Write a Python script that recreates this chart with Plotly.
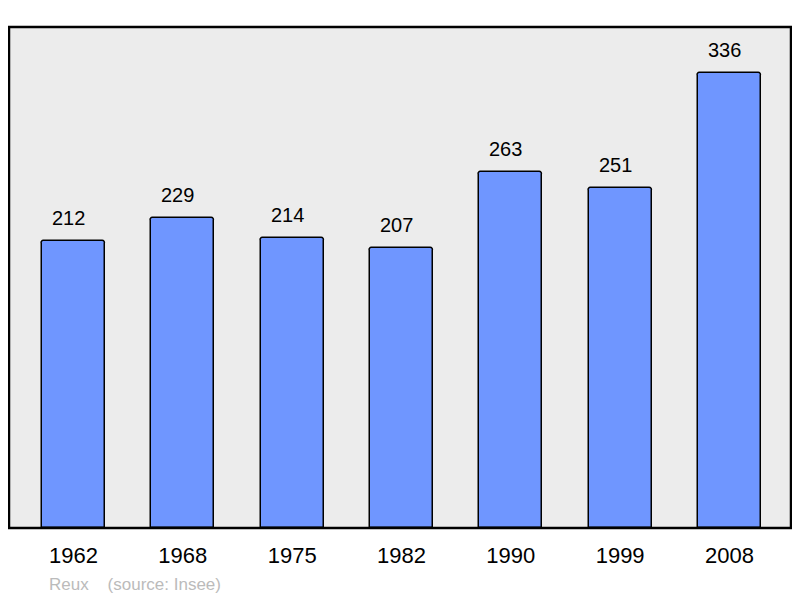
import plotly.graph_objects as go

years = ["1962", "1968", "1975", "1982", "1990", "1999", "2008"]
population = [212, 229, 214, 207, 263, 251, 336]
commune = "Reux"
source = "(source: Insee)"

FONT = "Liberation Sans, Arial, sans-serif"
idx = list(range(len(years)))

fig = go.Figure()
fig.add_trace(go.Bar(
    x=idx, y=population, width=0.576,
    marker=dict(color="#6f96ff", line=dict(color="#000000", width=1.5), cornerradius=3),
    hoverinfo="skip",
))
for i, v in zip(idx, population):
    fig.add_annotation(x=i, y=v, text=str(v), showarrow=False, yanchor="middle",
                       yshift=23, xshift=-5, font=dict(family=FONT, size=20, color="#000"))

fig.add_shape(type="rect", xref="paper", yref="paper", x0=0, y0=0, x1=1, y1=1,
              line=dict(color="#000", width=2.5), layer="above")
fig.add_annotation(xref="paper", yref="paper", x=(47 - 9) / 782, y=-(584 - 528) / 501,
                   xanchor="left", yanchor="middle", showarrow=False,
                   text=commune + "&nbsp;&nbsp;&nbsp;&nbsp;" + source,
                   font=dict(family=FONT, size=17, color="#bbbbbb"))

fig.update_layout(
    width=784, height=590,
    margin=dict(l=1, r=1, t=19, b=70),
    paper_bgcolor="#ffffff", plot_bgcolor="#ececec",
    showlegend=False, bargap=0,
    xaxis=dict(range=[-0.59, 6.563], tickmode="array", tickvals=idx, ticktext=years,
               showgrid=False, zeroline=False, ticks="", showline=False,
               tickfont=dict(family=FONT, size=22, color="#000"), ticklabelstandoff=12),
    yaxis=dict(range=[0, 370], showgrid=False, zeroline=False, showticklabels=False,
               ticks="", showline=False),
)
fig.write_html("out.html")
